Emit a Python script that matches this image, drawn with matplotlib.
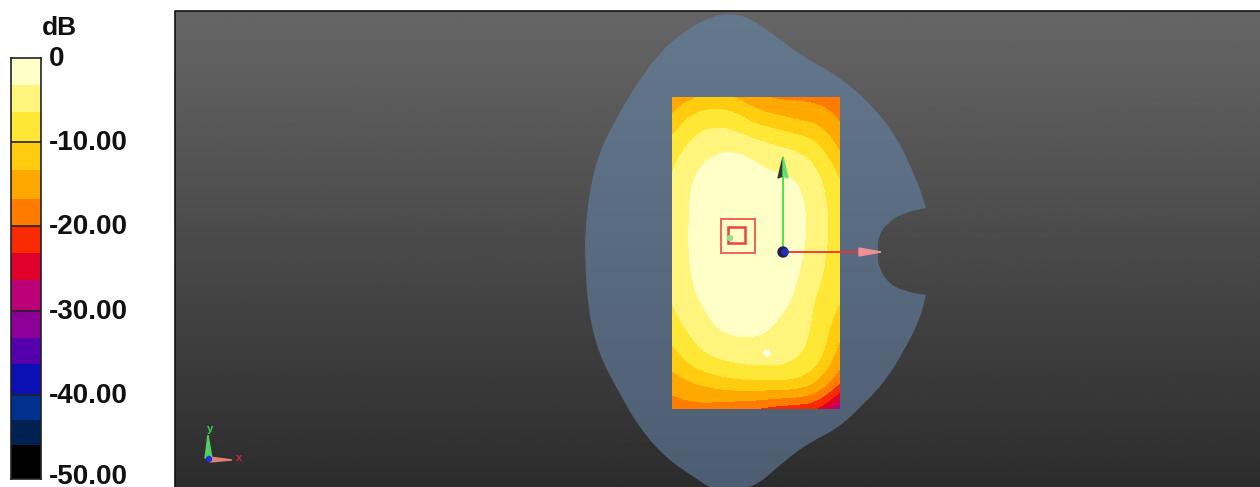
import numpy as np
import matplotlib
matplotlib.use("Agg")
import matplotlib.pyplot as plt
from matplotlib.patches import Polygon, Rectangle, Circle, PathPatch
from matplotlib.path import Path
from matplotlib.transforms import ScaledTranslation

plt.rcParams['font.family'] = ['Liberation Sans', 'DejaVu Sans']

# colour scale
levels = [0, -3.2, -6.4, -10, -13.3, -16.8, -20, -23.2, -26.4, -30, -33.2, -36.4, -40, -43, -46, -50]
colors = ['#FFFFC8', '#FFF47C', '#FFE835', '#FFCC10', '#FFA800', '#FF7C00', '#F92A00', '#E0002C',
          '#BC0078', '#8C0098', '#5400AC', '#0A10B4', '#003090', '#002252', '#000000']
tick_vals = [0, -10, -20, -30, -40, -50]
tick_labels = ['0', '-10.00', '-20.00', '-30.00', '-40.00', '-50.00']

# field on the rectangle, dB
grid_x = [672, 693, 714, 735, 756, 777, 798, 819, 839]
grid_y = [97, 123, 149, 175, 201, 227, 253, 279, 305, 331, 357, 383, 409]
field = [
    [-16, -13.5, -12.5, -13.3, -16, -17.5, -17.5, -18, -19.5],
    [-12, -8, -6.7, -7.6, -10.5, -11.5, -13, -13.5, -16.8],
    [-8, -5, -3.4, -3.1, -4.2, -5.5, -6.5, -9, -13.8],
    [-6.2, -3, -2, -1.5, -2.3, -3, -3.2, -5.8, -10.3],
    [-6, -2.4, -1.5, -1, -1, -1.5, -2.5, -4.8, -9],
    [-6, -2.3, -1, -0.5, -0.5, -1, -2.3, -4.5, -8.5],
    [-6, -2.3, -1, -0.5, -0.5, -1, -2.5, -5, -8.8],
    [-6, -2.8, -1.5, -1, -1, -1.5, -3, -6, -9],
    [-6.3, -3.8, -2.3, -1.5, -1.5, -2.5, -3.8, -7.5, -10],
    [-8.5, -5.4, -3.3, -2.6, -2.8, -3.6, -5, -7.5, -12.5],
    [-11.5, -8, -6, -5, -4.5, -4.5, -6, -8.5, -15],
    [-15, -13.5, -12, -10.8, -10.5, -10.3, -10.5, -13.5, -19.5],
    [-19, -18, -18.5, -19.5, -20, -21.5, -22, -23, -30],
]

# phantom outline, corner points doubled so they stay sharp
outline_x = [730, 710, 683, 660, 637, 617, 600, 590, 585, 585, 588, 598, 617, 640, 667, 697, 713, 752,
             783, 810, 837, 863, 887, 907, 920, 926, 926, 903, 887, 878, 878, 878, 887, 903, 926, 926, 917,
             897, 870, 837, 803, 777, 750]
outline_y = [13, 17, 32, 52, 83, 117, 150, 187, 233, 259, 309, 352, 389, 429, 459, 479, 490, 490,
             462, 442, 429, 405, 379, 345, 319, 295, 295, 291, 282, 265, 252, 237, 223, 213, 208, 208, 180,
             137, 103, 75, 57, 37, 18]


def smooth_outline(xs, ys):
    pts = np.column_stack([xs, ys]).astype(float)
    mids = (pts + np.roll(pts, -1, axis=0)) / 2
    verts = [mids[-1]]
    codes = [Path.MOVETO]
    for p, m in zip(pts, mids):
        verts += [p, m]
        codes += [Path.CURVE3, Path.CURVE3]
    return Path(verts, codes)


def soften(xs, ys, z, step=2, win=13):
    # draws the read values on a finer mesh so the bands are not faceted
    fx = np.arange(xs[0], xs[-1] + step, step)
    fy = np.arange(ys[0], ys[-1] + step, step)
    z = np.array(z, dtype=float)
    zx = np.array([np.interp(fx, xs, row) for row in z])
    zf = np.array([np.interp(fy, ys, col) for col in zx.T]).T
    k = np.ones(win) / win
    pad = win // 2
    zf = np.array([np.convolve(np.pad(r, pad, mode='reflect', reflect_type='odd'), k, 'valid') for r in zf])
    zf = np.array([np.convolve(np.pad(c, pad, mode='reflect', reflect_type='odd'), k, 'valid') for c in zf.T]).T
    return fx, fy, zf


fig = plt.figure(figsize=(12.6, 4.87), dpi=100)
ax = fig.add_axes([0, 0, 1, 1])
ax.axis('off')

# background gradient
bg = np.linspace(0.40, 0.175, 256).reshape(-1, 1)
ax.imshow(bg, extent=[175, 1260, 487, 11], cmap='gray', vmin=0, vmax=1, aspect='auto', zorder=1)
ax.plot([175, 175, 1260], [487, 11, 11], color='#111111', lw=1.2, zorder=2)

# phantom with its own gradient
shape = PathPatch(smooth_outline(outline_x, outline_y), facecolor='none', edgecolor='none')
ax.add_patch(shape)
top_col = np.array([0x64, 0x78, 0x8E]) / 255
bot_col = np.array([0x4E, 0x5E, 0x72]) / 255
t = np.linspace(0, 1, 256).reshape(-1, 1, 1)
im = ax.imshow(top_col * (1 - t) + bot_col * t, extent=[580, 930, 487, 11], aspect='auto', zorder=3)
im.set_clip_path(shape)
ax.set_xlim(0, 1260)
ax.set_ylim(487, 0)

# contour field
fx, fy, zf = soften(grid_x, grid_y, field)
ax.contourf(fx, fy, zf, levels=levels[::-1], colors=colors[::-1], zorder=4)

# axes arrows on the rectangle
ax.plot([783, 783], [252, 170], color='#40E040', lw=1.3, zorder=6)
ax.add_patch(Polygon([[783, 157], [778, 178], [783, 176]], color='#2A3A30', zorder=7))
ax.add_patch(Polygon([[783, 157], [788, 178], [783, 176]], color='#60E070', zorder=7))
ax.plot([783, 860], [252, 252], color='#F03030', lw=1.3, zorder=6)
ax.add_patch(Polygon([[881, 252], [859, 248], [859, 256]], color='#F09090', zorder=7))
ax.add_patch(Circle((783, 252), 5, color='#20204A', zorder=8))
ax.add_patch(Circle((785, 252), 3, color='#2030C0', zorder=9))

# probe squares
ax.add_patch(Rectangle((721, 219), 34, 34, fill=False, ec='#F06060', lw=1.4, zorder=6))
ax.add_patch(Rectangle((728, 227), 17, 16, fill=False, ec='#F04040', lw=1.8, zorder=6))
ax.add_patch(Circle((730, 238), 2.5, color='#90E090', zorder=6))
ax.add_patch(Circle((767, 353), 3, color='#FFFFE8', zorder=6))

# orientation triad
ax.add_patch(Polygon([[208, 435], [205, 458], [212, 458]], color='#50D060', zorder=6))
ax.add_patch(Polygon([[232, 460], [210, 457], [210, 462]], color='#E08070', zorder=6))
ax.add_patch(Circle((209, 459), 2.5, color='#2030E0', zorder=7))
ax.text(210, 429, 'y', color='#40D050', fontsize=8, fontweight='bold', ha='center', va='center', zorder=7)
ax.text(239, 458, 'x', color='#D02040', fontsize=8, fontweight='bold', ha='center', va='center', zorder=7)

# colour bar
cb = fig.add_axes([11 / 1260, 1 - 479 / 487, 30 / 1260, 421 / 487])
cb.set_xlim(0, 1)
cb.set_ylim(-50, 0)
for i in range(len(colors)):
    cb.barh(levels[i + 1], 1, height=levels[i] - levels[i + 1], align='edge', color=colors[i], linewidth=0)
for v in tick_vals[1:-1]:
    cb.axhline(v, color='#222222', lw=1.2)
cb.set_xticks([])
cb.yaxis.tick_right()
cb.set_yticks(tick_vals)
cb.set_yticklabels(tick_labels, fontsize=20, fontweight='bold', color='#111111')
cb.tick_params(axis='y', length=0, pad=6)
shift = ScaledTranslation(0, -8 / 100, fig.dpi_scale_trans)
lift = ScaledTranslation(0, -5 / 100, fig.dpi_scale_trans)
labels = cb.get_yticklabels()
for lbl in labels:
    lbl.set_verticalalignment('baseline')
    # the last label sits on the bottom edge of the picture
    lbl.set_transform(lbl.get_transform() + (lift if lbl is labels[-1] else shift))
for s in cb.spines.values():
    s.set_color('#222222')
    s.set_linewidth(1.2)
fig.text(59 / 1260, 1 - 35 / 487, 'dB', fontsize=19, fontweight='bold', color='#111111', ha='center', va='baseline')

fig.savefig('out.png', dpi=100)
